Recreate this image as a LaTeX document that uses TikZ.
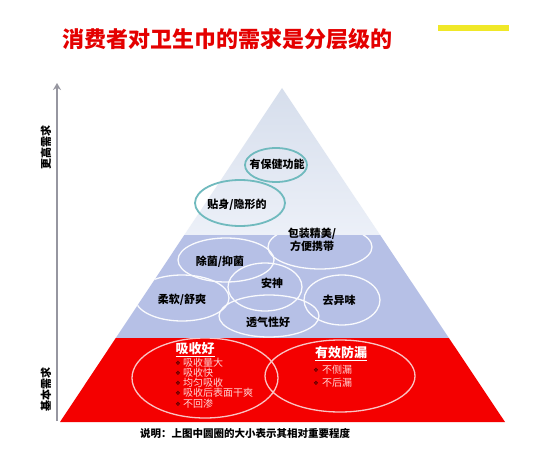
\documentclass[tikz,border=0pt]{standalone}
\usepackage{fontspec}
\newfontfamily\cjk{Noto Sans CJK SC}
\newfontfamily\dejavu{DejaVu Sans}
\usetikzlibrary{shapes.geometric,arrows.meta}
\definecolor{titlered}{HTML}{E40000}
\definecolor{midblue}{RGB}{182,192,230}
\definecolor{topblueA}{RGB}{214,222,236}
\definecolor{topblueB}{RGB}{236,240,248}
\definecolor{layerred}{RGB}{244,0,0}
\definecolor{tealring}{RGB}{112,186,190}
\definecolor{pinkring}{RGB}{250,196,196}
\definecolor{pinktext}{RGB}{255,214,214}
\definecolor{axisgray}{RGB}{150,150,160}
\definecolor{hlyellow}{RGB}{240,232,40}
\tikzset{
  ring/.style={ellipse, draw, inner sep=0pt, outer sep=0pt},
  tealr/.style={ring, draw=tealring, line width=1.8pt},
  whiter/.style={ring, draw=white!92!midblue, line width=1.3pt},
  pinkr/.style={ring, draw=pinkring, line width=1.3pt},
  lbl/.style={font=\cjk\bfseries\fontsize{11}{12}\selectfont, text=black, inner sep=0pt},
  head/.style={font=\cjk\bfseries\fontsize{13}{14}\selectfont, text=white, inner sep=0pt},
  item/.style={font=\cjk\fontsize{10}{10}\selectfont, text=pinktext, inner sep=0pt, anchor=west},
  bul/.style={font=\dejavu\fontsize{6}{6}\selectfont, text=black!70!red, inner sep=0pt},
  axislbl/.style={font=\cjk\bfseries\fontsize{11}{11}\selectfont, rotate=90, inner sep=0pt}
}
\begin{document}
\begin{tikzpicture}[x=1pt,y=-1pt]
\useasboundingbox (0,0) rectangle (553,449);
\fill[white] (0,0) rectangle (553,449);

% title and yellow mark
\node[font=\cjk\bfseries\fontsize{22}{22}\selectfont, text=titlered, inner sep=0pt] (title) at (227,39) {消费者对卫生巾的需求是分层级的};
\fill[hlyellow] (438,25) rectangle (509,31);

% axis
\coordinate (abot) at (57,421);
\coordinate (atop) at (57,83);
\draw[axisgray, line width=2pt, -{Stealth[length=7pt,width=8pt]}] (abot) -- (atop);
\node[axislbl] (hi) at (46,147) {更高需求};
\node[axislbl] (lo) at (46,389) {基本需求};

% pyramid layers
\coordinate (apex) at (282,88);
\coordinate (bl) at (60,422);
\coordinate (br) at (505,422);
\shade[top color=topblueA, bottom color=topblueB] (apex) -- (380.1,235) -- (184.3,235) -- cycle;
\fill[midblue] (184.3,235) -- (380.1,235) -- (448.9,338) -- (115.8,338) -- cycle;
\fill[layerred] (115.8,338) -- (448.9,338) -- (br) -- (bl) -- cycle;

% top layer
\node[tealr, minimum width=62pt, minimum height=34pt] (e1) at (276,165) {};
\node[tealr, minimum width=90pt, minimum height=46pt] (e2) at (240,203) {};
\node[lbl] (t1) at (277,164) {有保健功能};
\node[lbl] (t2) at (237,205) {贴身/隐形的};

% middle layer
\begin{scope}
\clip (184.3,235) -- (380.1,235) -- (448.9,338) -- (115.8,338) -- cycle;
\node[whiter, minimum width=104pt, minimum height=44pt] (e3) at (320,247) {};
\node[whiter, minimum width=96pt, minimum height=44pt] (e4) at (226,260) {};
\node[whiter, minimum width=74pt, minimum height=48pt] (e5) at (265,287) {};
\node[whiter, minimum width=94pt, minimum height=46pt] (e6) at (182,298) {};
\node[whiter, minimum width=76pt, minimum height=50pt] (e7) at (342,300) {};
\node[whiter, minimum width=100pt, minimum height=42pt] (e8) at (269,316) {};
\end{scope}
\node[lbl, align=center, font=\cjk\bfseries\fontsize{11}{13}\selectfont] (t3) at (312,240) {包装精美/\\方便携带};
\node[lbl] (t4) at (220,262) {除菌/抑菌};
\node[lbl] (t5) at (272,283) {安神};
\node[lbl] (t6) at (182,300) {柔软/舒爽};
\node[lbl] (t7) at (339,300) {去异味};
\node[lbl] (t8) at (268,322) {透气性好};

% bottom layer
\begin{scope}
\clip (115.8,338) -- (448.9,338) -- (br) -- (bl) -- cycle;
\node[pinkr, minimum width=146pt, minimum height=80pt] (e9) at (205,378) {};
\node[pinkr, minimum width=150pt, minimum height=72pt] (e10) at (340,376) {};
\end{scope}
\node[head] (h1) at (195,350) {\underline{吸收好}};
\node[head] (h2) at (341,354) {\underline{有效防漏}};

\node[bul] (b1) at (178,363) {❖};
\node[item] (i1) at (183,363) {吸收量大};
\node[bul] (b2) at (178,373) {❖};
\node[item] (i2) at (183,373) {吸收快};
\node[bul] (b3) at (178,383) {❖};
\node[item] (i3) at (183,383) {均匀吸收};
\node[bul] (b4) at (178,393) {❖};
\node[item] (i4) at (183,393) {吸收后表面干爽};
\node[bul] (b5) at (178,404) {❖};
\node[item] (i5) at (183,404) {不回渗};

\node[bul] (b6) at (316,370) {❖};
\node[item] (i6) at (322,370) {不侧漏};
\node[bul] (b7) at (316,383) {❖};
\node[item] (i7) at (322,383) {不后漏};

% footer
\node[font=\cjk\bfseries\fontsize{10.5}{11}\selectfont, inner sep=0pt, anchor=west] (note) at (140,433) {说明：上图中圆圈的大小表示其相对重要程度};
\end{tikzpicture}
\end{document}
